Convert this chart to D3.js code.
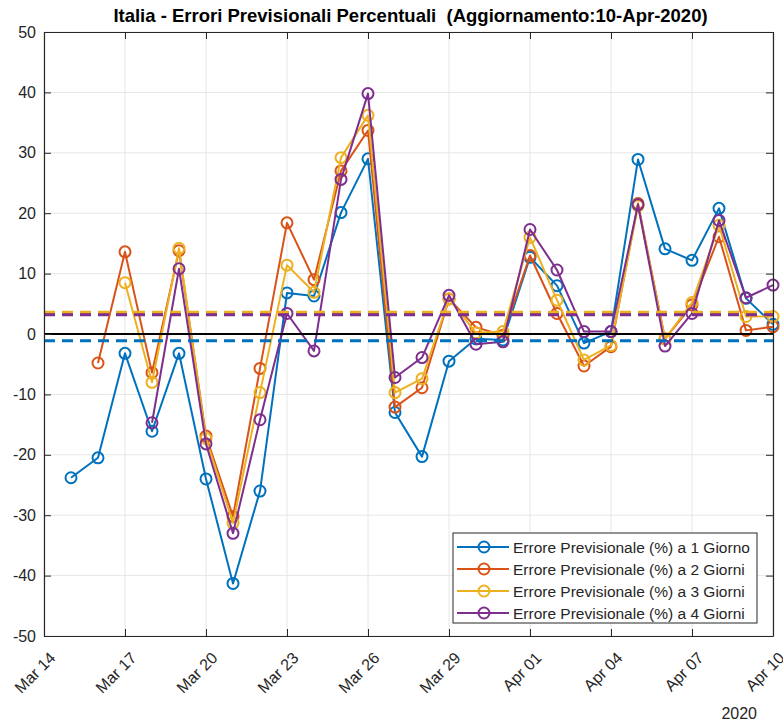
<!DOCTYPE html>
<html>
<head>
<meta charset="utf-8">
<script src="https://cdn.jsdelivr.net/npm/d3@7"></script>
<style>
  body { margin: 0; background: #fff; }
  text { font-family: "Liberation Sans", Arial, sans-serif; fill: #262626; }
</style>
</head>
<body>
<div id="chart"></div>
<script>
// days from Mar 15 to Apr 10 2020, one value per day (null = no value)
var startDay = new Date(2020, 2, 15);
var err1 = [-23.8, -20.5, -3.2, -16.1, -3.2, -24.0, -41.3, -26.0, 6.8, 6.3, 20.1, 29.0, -13.0, -20.3, -4.5, -0.8, -1.0, 12.7, 8.0, -1.5, 0.4, 28.9, 14.1, 12.2, 20.8, 5.9, 1.6];
var err2 = [null, -4.8, 13.6, -6.4, 13.8, -16.9, -30.2, -5.7, 18.4, 9.0, 27.0, 33.7, -12.1, -8.9, 5.8, 1.1, -0.2, 13.0, 3.4, -5.3, -2.1, 21.6, -0.8, 4.8, 16.1, 0.6, 1.2];
var err3 = [null, null, 8.5, -8.0, 14.2, -17.3, -31.3, -9.7, 11.4, 6.9, 29.2, 36.2, -9.7, -7.4, 5.8, 0.2, 0.4, 16.0, 5.6, -4.3, -1.9, 21.2, -0.8, 5.2, 18.0, 2.9, 2.9];
var err4 = [null, null, null, -14.7, 10.8, -18.2, -33.0, -14.2, 3.4, -2.8, 25.6, 39.8, -7.2, -3.9, 6.4, -1.7, -1.3, 17.3, 10.6, 0.4, 0.4, 21.4, -2.0, 3.4, 18.8, 6.0, 8.1];
var means = [-1.1, 3.4, 3.6, 3.2];
var seriesNames = ["Errore Previsionale (%) a 1 Giorno", "Errore Previsionale (%) a 2 Giorni",
                   "Errore Previsionale (%) a 3 Giorni", "Errore Previsionale (%) a 4 Giorni"];
var colors = ["#0072BD", "#D95319", "#EDB120", "#7E2F8E"];
var yTicks = [-50, -40, -30, -20, -10, 0, 10, 20, 30, 40, 50];

var W = 783, H = 726;
var margin = { top: 32, right: 10, bottom: 90, left: 44 };
var width = W - margin.left - margin.right,
    height = H - margin.top - margin.bottom;

var svg = d3.select("#chart").append("svg")
    .attr("width", W)
    .attr("height", H)
    .append("g")
    .attr("transform", "translate(" + margin.left + "," + margin.top + ")");

var x = d3.scaleTime()
    .domain([new Date(2020, 2, 14), new Date(2020, 3, 10)])
    .range([0, width]);
var y = d3.scaleLinear().domain([-50, 50]).range([height, 0]);

var xTicks = d3.timeDay.range(new Date(2020, 2, 14), new Date(2020, 3, 11), 3);
var fmt = d3.timeFormat("%b %d");

// grid
svg.selectAll(".gx").data(xTicks).enter().append("line")
    .attr("x1", function(d) { return x(d); }).attr("x2", function(d) { return x(d); })
    .attr("y1", 0).attr("y2", height)
    .style("stroke", "#e6e6e6").style("stroke-width", 1);
svg.selectAll(".gy").data(yTicks).enter().append("line")
    .attr("x1", 0).attr("x2", width)
    .attr("y1", function(d) { return y(d); }).attr("y2", function(d) { return y(d); })
    .style("stroke", "#e6e6e6").style("stroke-width", 1);

// series
var allSeries = [err1, err2, err3, err4];
allSeries.forEach(function(vals, k) {
  var pts = [];
  vals.forEach(function(v, i) {
    if (v !== null) pts.push({ date: d3.timeDay.offset(startDay, i), value: v });
  });
  var line = d3.line()
      .x(function(d) { return x(d.date); })
      .y(function(d) { return y(d.value); });
  svg.append("path")
      .datum(pts)
      .attr("fill", "none")
      .attr("stroke", colors[k])
      .attr("stroke-width", 2)
      .attr("stroke-linejoin", "round")
      .attr("d", line);
  svg.selectAll(".m" + k).data(pts).enter().append("circle")
      .attr("cx", function(d) { return x(d.date); })
      .attr("cy", function(d) { return y(d.value); })
      .attr("r", 5.5)
      .style("fill", "none")
      .style("stroke", colors[k])
      .style("stroke-width", 2);
});

// mean lines
means.forEach(function(m, k) {
  svg.append("line")
      .attr("x1", 0).attr("x2", width)
      .attr("y1", y(m)).attr("y2", y(m))
      .style("stroke", colors[k])
      .style("stroke-width", 3)
      .style("stroke-dasharray", "11,7");
});

// zero line
svg.append("line")
    .attr("x1", 0).attr("x2", width)
    .attr("y1", y(0)).attr("y2", y(0))
    .style("stroke", "black").style("stroke-width", 2);

// axes
var xAxis = svg.append("g")
    .attr("transform", "translate(0," + height + ")")
    .call(d3.axisBottom(x).tickValues(xTicks).tickFormat(fmt).tickSizeInner(-7).tickSizeOuter(0));
xAxis.selectAll("text")
    .style("font-size", "16px")
    .style("text-anchor", "end")
    .attr("x", 0)
    .attr("y", 0)
    .attr("dy", 0)
    .attr("transform", "translate(12,23) rotate(-45)");
var yAxis = svg.append("g")
    .call(d3.axisLeft(y).tickValues(yTicks).tickFormat(function(d) { return String(d); })
      .tickSizeInner(-7).tickSizeOuter(0));
yAxis.selectAll("text").style("font-size", "16px").attr("x", -8);
svg.append("g").attr("transform", "translate(" + width + ",0)")
    .call(d3.axisRight(y).tickValues(yTicks).tickFormat("").tickSizeInner(-7).tickSizeOuter(0));
svg.append("g")
    .call(d3.axisTop(x).tickValues(xTicks).tickFormat("").tickSizeInner(-7).tickSizeOuter(0));
svg.selectAll(".domain, .tick line").style("stroke", "#262626");
svg.selectAll(".domain").style("stroke-width", 1.2);

// title
svg.append("text")
    .attr("x", width / 2 + 2)
    .attr("y", -10)
    .style("text-anchor", "middle")
    .style("font-size", "18.5px")
    .style("font-weight", "bold")
    .style("fill", "#000")
    .style("white-space", "pre")
    .text("Italia - Errori Previsionali Percentuali  (Aggiornamento:10-Apr-2020)");

svg.append("text")
    .attr("x", 713)
    .attr("y", height + 83)
    .style("text-anchor", "end")
    .style("font-size", "16px")
    .text("2020");

// legend
var lg = svg.append("g").attr("transform", "translate(409,501)");
lg.append("rect")
    .attr("width", 304).attr("height", 90)
    .style("fill", "#fff").style("stroke", "#262626").style("stroke-width", 1);
seriesNames.forEach(function(name, k) {
  var yy = 14 + k * 22;
  lg.append("line").attr("x1", 4).attr("x2", 56).attr("y1", yy).attr("y2", yy)
      .style("stroke", colors[k]).style("stroke-width", 2);
  lg.append("circle").attr("cx", 31).attr("cy", yy).attr("r", 5.5)
      .style("fill", "none").style("stroke", colors[k]).style("stroke-width", 2);
  lg.append("text").attr("x", 60).attr("y", yy + 5.5)
      .style("font-size", "15.5px")
      .text(name);
});
</script>
</body>
</html>
